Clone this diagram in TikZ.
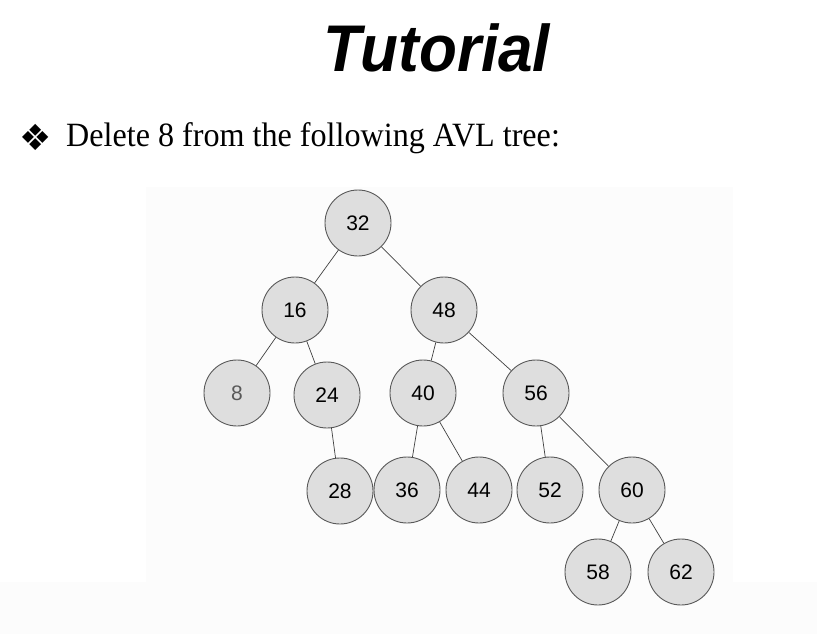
\documentclass[tikz,border=0pt]{standalone}
\usepackage{fontspec}
\setmainfont{Liberation Serif}
\newfontfamily\bodyfont[FakeStretch=0.945]{Liberation Serif}
\newfontfamily\titlefont[FakeStretch=0.94]{Liberation Sans}
\newfontfamily\nodefont{Liberation Sans}
\newfontfamily\symfont{DejaVu Sans}
\definecolor{panel}{HTML}{FCFCFC}
\begin{document}
\begin{tikzpicture}[x=1pt,y=-1pt,
  tnode/.style={circle,draw=black!65,fill=black!13,line width=0.9pt,minimum size=66pt,inner sep=0pt,font=\nodefont\fontsize{21}{24}\selectfont},
  edge/.style={draw=black!75,line width=0.7pt}]
\useasboundingbox (0,0) rectangle (817,634);
\fill[panel] (146,187) rectangle (733,634);
\fill[panel] (0,582) rectangle (817,634);
\node[font=\titlefont\bfseries\itshape\fontsize{66}{70}\selectfont,anchor=base] (title) at (437,72) {Tutorial};
\node[font=\symfont\fontsize{36}{40}\selectfont,inner sep=0pt] (bul) at (36,137) {❖};
\node[font=\bodyfont\fontsize{34}{40}\selectfont,anchor=base west,inner sep=0pt] (txt) at (66,146) {Delete 8 from the following AVL tree:};
\node[tnode] (n32) at (358,223) {32};
\node[tnode] (n16) at (295,310) {16};
\node[tnode] (n48) at (444,310) {48};
\node[tnode,text=black!65] (n8) at (237,393) {8};
\node[tnode] (n24) at (327,395) {24};
\node[tnode] (n40) at (423,393) {40};
\node[tnode] (n56) at (536,393) {56};
\node[tnode] (n28) at (340,491) {28};
\node[tnode] (n36) at (407,490) {36};
\node[tnode] (n44) at (479,490) {44};
\node[tnode] (n52) at (550,490) {52};
\node[tnode] (n60) at (632,490) {60};
\node[tnode] (n58) at (598,572) {58};
\node[tnode] (n62) at (681,572) {62};
\draw[edge] (n32)--(n16);
\draw[edge] (n32)--(n48);
\draw[edge] (n16)--(n8);
\draw[edge] (n16)--(n24);
\draw[edge] (n24)--(n28);
\draw[edge] (n48)--(n40);
\draw[edge] (n48)--(n56);
\draw[edge] (n40)--(n36);
\draw[edge] (n40)--(n44);
\draw[edge] (n56)--(n52);
\draw[edge] (n56)--(n60);
\draw[edge] (n60)--(n58);
\draw[edge] (n60)--(n62);
\end{tikzpicture}
\end{document}
